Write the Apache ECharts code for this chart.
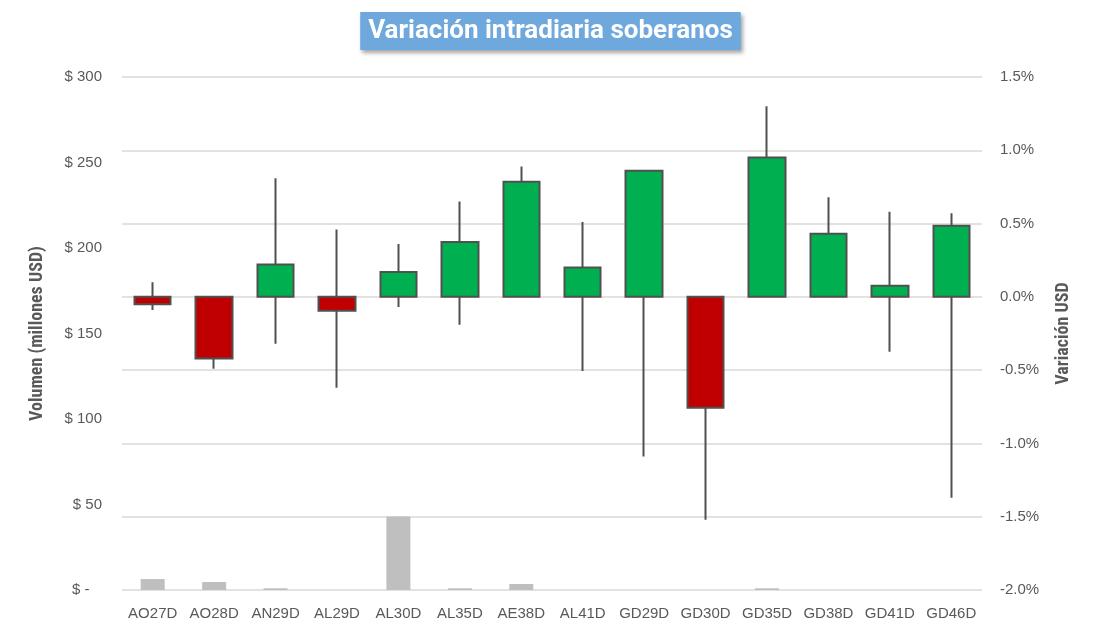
<!DOCTYPE html>
<html>
<head>
<meta charset="utf-8">
<script src="https://cdn.jsdelivr.net/npm/echarts@6/dist/echarts.min.js"></script>
<style>
  html, body { margin: 0; padding: 0; background: #fff; }
  #chart { width: 1101px; height: 638px; }
</style>
</head>
<body>
<div id="chart"></div>
<script>
const bonos = ["AO27D", "AO28D", "AN29D", "AL29D", "AL30D", "AL35D", "AE38D", "AL41D", "GD29D", "GD30D", "GD35D", "GD38D", "GD41D", "GD46D"];
// variacion % : apertura, cierre, minimo, maximo
const apertura = [0, 0, 0, 0, 0, 0, 0, 0, 0, 0, 0, 0, 0, 0];
const cierre = [-0.05, -0.42, 0.22, -0.095, 0.17, 0.375, 0.785, 0.2, 0.86, -0.757, 0.95, 0.43, 0.075, 0.485];
const minimo = [-0.09, -0.49, -0.32, -0.62, -0.07, -0.19, 0, -0.505, -1.09, -1.52, 0, 0, -0.375, -1.37];
const maximo = [0.10, 0, 0.81, 0.46, 0.36, 0.65, 0.89, 0.51, 0.86, 0, 1.30, 0.68, 0.58, 0.57];
// volumen en millones USD
const volumen = [6.4, 4.7, 1, 0, 43, 1, 3.5, 0, 0, 0, 1, 0, 0, 0];

const velas = bonos.map((b, i) => [apertura[i], cierre[i], minimo[i], maximo[i]]);

const gris = "#595959";
const fuente = "'Liberation Sans', Arial, sans-serif";
const fuenteNombre = "'Roboto Condensed', 'Liberation Sans Narrow', sans-serif";

const chart = echarts.init(document.getElementById("chart"));
chart.setOption({
  animation: false,
  title: {
    text: "Variación intradiaria soberanos",
    left: "center",
    top: 12,
    padding: [6, 8, 6, 8],
    backgroundColor: "#6FA8DC",
    shadowColor: "rgba(0,0,0,0.35)",
    shadowBlur: 4,
    shadowOffsetX: 2,
    shadowOffsetY: 3,
    textStyle: {
      color: "#fff",
      fontFamily: "Roboto",
      fontWeight: "bold",
      fontSize: 26
    }
  },
  grid: { left: 122, right: 119, top: 77, bottom: 48 },
  xAxis: {
    type: "category",
    data: bonos,
    axisLine: { show: false },
    axisTick: { show: false },
    axisLabel: { color: gris, fontSize: 15, fontFamily: fuente, margin: 16, interval: 0 }
  },
  yAxis: [
    {
      type: "value",
      min: 0,
      max: 300,
      interval: 50,
      name: "Volumen (millones USD)",
      nameLocation: "middle",
      nameGap: 76,
      nameTextStyle: { color: gris, fontSize: 18, fontWeight: "bold", fontFamily: fuenteNombre },
      splitLine: { show: false },
      axisLine: { show: false },
      axisTick: { show: false },
      axisLabel: {
        color: gris, fontSize: 15, fontFamily: fuente, margin: 20,
        formatter: v => v === 0 ? "$ -   " : "$ " + v
      }
    },
    {
      type: "value",
      min: -2,
      max: 1.5,
      interval: 0.5,
      name: "Variación USD",
      nameLocation: "middle",
      nameGap: 72,
      nameRotate: 90,
      nameTextStyle: { color: gris, fontSize: 18, fontWeight: "bold", fontFamily: fuenteNombre },
      splitLine: { show: true, lineStyle: { color: "#d9d9d9", width: 1.5 } },
      axisLine: { show: false },
      axisTick: { show: false },
      axisLabel: {
        color: gris, fontSize: 15, fontFamily: fuente, margin: 18,
        formatter: v => v.toFixed(1) + "%"
      }
    }
  ],
  series: [
    {
      type: "bar",
      yAxisIndex: 0,
      data: volumen,
      barWidth: 24,
      itemStyle: { color: "#bfbfbf" }
    },
    {
      type: "candlestick",
      yAxisIndex: 1,
      data: velas,
      barWidth: 37,
      itemStyle: {
        color: "#00B050",
        color0: "#C00000",
        borderColor: "#505050",
        borderColor0: "#505050",
        borderWidth: 2
      }
    }
  ]
});
</script>
</body>
</html>
